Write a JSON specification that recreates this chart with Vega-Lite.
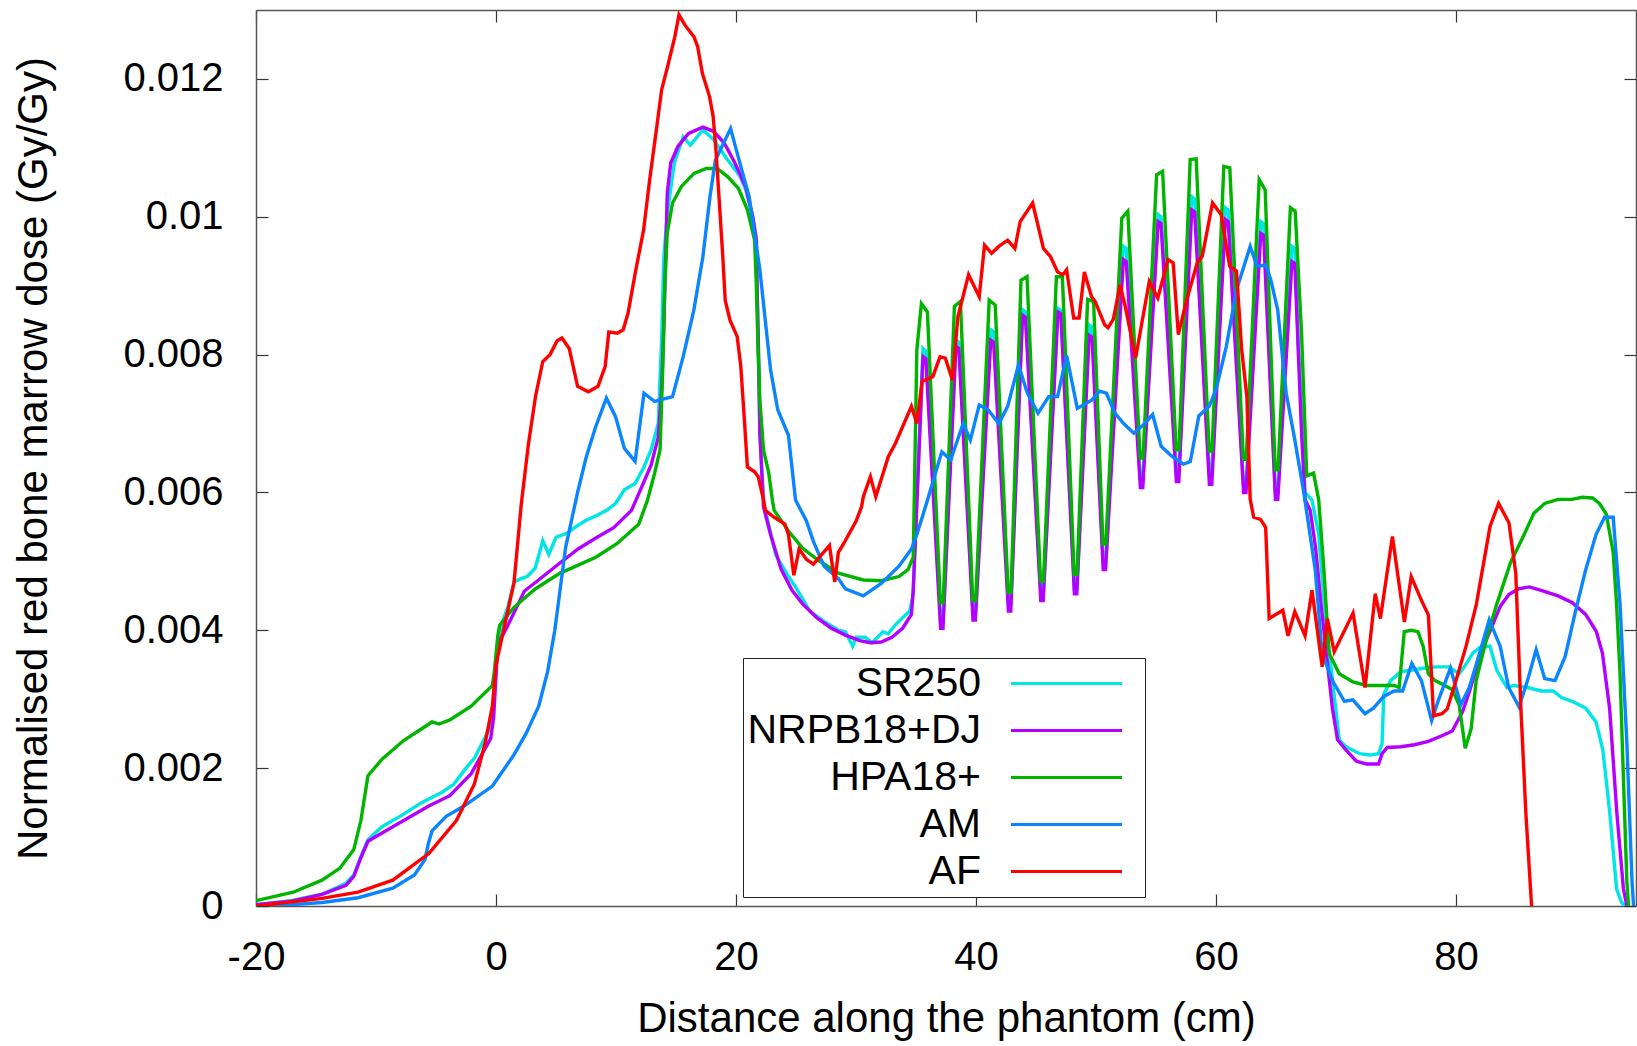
{
"$schema": "https://vega.github.io/schema/vega-lite/v6.json",
"width": 1380, "height": 896,
"autosize": {"type": "none"},
"padding": {"left": 256, "top": 10, "right": 1, "bottom": 140},
"background": "white",
"config": {"view": {"stroke": null}, "font": "Liberation Sans"},
"data": {"values": [
{"m":"SR250","x":-20,"y":0.00002},{"m":"SR250","x":-17,"y":0.00008},{"m":"SR250","x":-14.5,"y":0.00017},{"m":"SR250","x":-12.5,"y":0.00033},{"m":"SR250","x":-11.85,"y":0.00045},{"m":"SR250","x":-11.26,"y":0.00072},{"m":"SR250","x":-10.67,"y":0.00096},{"m":"SR250","x":-9.5,"y":0.00115},{"m":"SR250","x":-8,"y":0.0013},{"m":"SR250","x":-6.2,"y":0.0015},{"m":"SR250","x":-4.5,"y":0.00165},{"m":"SR250","x":-3.56,"y":0.00176},{"m":"SR250","x":-2.5,"y":0.002},{"m":"SR250","x":-1.78,"y":0.00215},{"m":"SR250","x":-0.6,"y":0.00255},{"m":"SR250","x":-0.2,"y":0.0029},{"m":"SR250","x":0,"y":0.0034},{"m":"SR250","x":0.15,"y":0.00385},{"m":"SR250","x":0.5,"y":0.0041},{"m":"SR250","x":1,"y":0.00435},{"m":"SR250","x":1.5,"y":0.0047},{"m":"SR250","x":2.07,"y":0.00475},{"m":"SR250","x":2.6,"y":0.00478},{"m":"SR250","x":3.26,"y":0.0049},{"m":"SR250","x":3.9,"y":0.0053},{"m":"SR250","x":4.4,"y":0.0051},{"m":"SR250","x":5,"y":0.00535},{"m":"SR250","x":5.94,"y":0.00541},{"m":"SR250","x":6.54,"y":0.00549},{"m":"SR250","x":7.43,"y":0.00559},{"m":"SR250","x":8.32,"y":0.00566},{"m":"SR250","x":9.21,"y":0.00574},{"m":"SR250","x":9.96,"y":0.00584},{"m":"SR250","x":10.7,"y":0.00604},{"m":"SR250","x":11.59,"y":0.00613},{"m":"SR250","x":12.33,"y":0.00637},{"m":"SR250","x":12.93,"y":0.00662},{"m":"SR250","x":13.52,"y":0.007},{"m":"SR250","x":13.82,"y":0.00831},{"m":"SR250","x":13.97,"y":0.00937},{"m":"SR250","x":14.27,"y":0.01005},{"m":"SR250","x":14.86,"y":0.01078},{"m":"SR250","x":15.6,"y":0.01116},{"m":"SR250","x":16.2,"y":0.01104},{"m":"SR250","x":17.24,"y":0.01126},{"m":"SR250","x":18.13,"y":0.01112},{"m":"SR250","x":19.32,"y":0.01082},{"m":"SR250","x":20.3,"y":0.0106},{"m":"SR250","x":20.8,"y":0.0104},{"m":"SR250","x":21.4,"y":0.01},{"m":"SR250","x":21.7,"y":0.00966},{"m":"SR250","x":21.75,"y":0.00903},{"m":"SR250","x":21.87,"y":0.00807},{"m":"SR250","x":21.99,"y":0.00686},{"m":"SR250","x":22.29,"y":0.00589},{"m":"SR250","x":22.44,"y":0.00574},{"m":"SR250","x":23.3,"y":0.0051},{"m":"SR250","x":24.37,"y":0.00478},{"m":"SR250","x":24.96,"y":0.00463},{"m":"SR250","x":26.15,"y":0.00428},{"m":"SR250","x":27.34,"y":0.00413},{"m":"SR250","x":28.53,"y":0.004},{"m":"SR250","x":29.12,"y":0.00398},{"m":"SR250","x":29.72,"y":0.00377},{"m":"SR250","x":30.02,"y":0.0039},{"m":"SR250","x":30.76,"y":0.0039},{"m":"SR250","x":31.35,"y":0.00382},{"m":"SR250","x":32.25,"y":0.00398},{"m":"SR250","x":32.69,"y":0.00395},{"m":"SR250","x":33.28,"y":0.00408},{"m":"SR250","x":34.47,"y":0.00428},{"m":"SR250","x":34.75,"y":0.0045},
{"m":"SR250","x":35.58,"y":0.00809},{"m":"SR250","x":35.82,"y":0.00805},{"m":"SR250","x":37.05,"y":0.00415},{"m":"SR250","x":37.25,"y":0.00415},{"m":"SR250","x":38.33,"y":0.00821},{"m":"SR250","x":38.57,"y":0.00818},{"m":"SR250","x":39.75,"y":0.00425},{"m":"SR250","x":39.95,"y":0.00425},{"m":"SR250","x":41.23,"y":0.00836},{"m":"SR250","x":41.47,"y":0.00833},{"m":"SR250","x":42.7,"y":0.00438},{"m":"SR250","x":42.9,"y":0.00438},{"m":"SR250","x":43.88,"y":0.00865},{"m":"SR250","x":44.12,"y":0.00862},{"m":"SR250","x":45.4,"y":0.00453},{"m":"SR250","x":45.6,"y":0.00453},{"m":"SR250","x":46.83,"y":0.00867},{"m":"SR250","x":47.07,"y":0.00864},{"m":"SR250","x":48.2,"y":0.0046},{"m":"SR250","x":48.4,"y":0.0046},{"m":"SR250","x":49.43,"y":0.00843},{"m":"SR250","x":49.67,"y":0.0084},{"m":"SR250","x":50.6,"y":0.005},{"m":"SR250","x":50.8,"y":0.005},{"m":"SR250","x":52.28,"y":0.00957},{"m":"SR250","x":52.52,"y":0.00954},{"m":"SR250","x":53.7,"y":0.00619},{"m":"SR250","x":53.9,"y":0.00619},{"m":"SR250","x":55.18,"y":0.01003},{"m":"SR250","x":55.42,"y":0.01},{"m":"SR250","x":56.7,"y":0.00629},{"m":"SR250","x":56.9,"y":0.00629},{"m":"SR250","x":57.98,"y":0.01029},{"m":"SR250","x":58.22,"y":0.01026},{"m":"SR250","x":59.45,"y":0.00629},{"m":"SR250","x":59.65,"y":0.00629},{"m":"SR250","x":60.78,"y":0.01013},{"m":"SR250","x":61.02,"y":0.0101},{"m":"SR250","x":62.3,"y":0.00609},{"m":"SR250","x":62.5,"y":0.00609},{"m":"SR250","x":63.73,"y":0.00993},{"m":"SR250","x":63.97,"y":0.0099},{"m":"SR250","x":64.95,"y":0.006},{"m":"SR250","x":65.15,"y":0.006},{"m":"SR250","x":66.33,"y":0.00957},{"m":"SR250","x":66.57,"y":0.00954},{"m":"SR250","x":66.85,"y":0.0082},{"m":"SR250","x":67.2,"y":0.0069},{"m":"SR250","x":67.42,"y":0.006},{"m":"SR250","x":68,"y":0.00589},{"m":"SR250","x":68.56,"y":0.00539},{"m":"SR250","x":69.13,"y":0.00418},{"m":"SR250","x":69.84,"y":0.00307},{"m":"SR250","x":70.27,"y":0.00241},{"m":"SR250","x":70.84,"y":0.00231},{"m":"SR250","x":71.98,"y":0.00221},{"m":"SR250","x":72.84,"y":0.00219},{"m":"SR250","x":73.55,"y":0.00221},{"m":"SR250","x":73.84,"y":0.00236},{"m":"SR250","x":73.98,"y":0.00307},{"m":"SR250","x":74.55,"y":0.00327},{"m":"SR250","x":75.41,"y":0.0034},{"m":"SR250","x":76.27,"y":0.00342},{"m":"SR250","x":77.27,"y":0.00345},{"m":"SR250","x":78.26,"y":0.00347},{"m":"SR250","x":79.4,"y":0.00347},{"m":"SR250","x":80.26,"y":0.00337},{"m":"SR250","x":80.69,"y":0.00347},{"m":"SR250","x":81.4,"y":0.00367},{"m":"SR250","x":81.97,"y":0.00375},{"m":"SR250","x":82.83,"y":0.00377},{"m":"SR250","x":83.4,"y":0.00342},{"m":"SR250","x":84.25,"y":0.00317},{"m":"SR250","x":84.82,"y":0.0032},{"m":"SR250","x":85.96,"y":0.00317},{"m":"SR250","x":87.1,"y":0.00312},{"m":"SR250","x":88.1,"y":0.00312},{"m":"SR250","x":88.82,"y":0.00302},{"m":"SR250","x":89.67,"y":0.00297},{"m":"SR250","x":90.81,"y":0.00287},{"m":"SR250","x":91.67,"y":0.00267},{"m":"SR250","x":92.24,"y":0.00226},{"m":"SR250","x":92.81,"y":0.00136},{"m":"SR250","x":93.38,"y":0.00025},{"m":"SR250","x":93.8,"y":0.00005},{"m":"SR250","x":94.1,"y":0},

{"m":"NRPB18+DJ","x":-20,"y":0.00002},{"m":"NRPB18+DJ","x":-17,"y":0.00007},{"m":"NRPB18+DJ","x":-14.5,"y":0.00017},{"m":"NRPB18+DJ","x":-12.5,"y":0.0003},{"m":"NRPB18+DJ","x":-11.85,"y":0.00043},{"m":"NRPB18+DJ","x":-11.26,"y":0.0007},{"m":"NRPB18+DJ","x":-10.67,"y":0.00094},{"m":"NRPB18+DJ","x":-8.6,"y":0.00115},{"m":"NRPB18+DJ","x":-5.6,"y":0.00145},{"m":"NRPB18+DJ","x":-3.85,"y":0.0016},{"m":"NRPB18+DJ","x":-2.07,"y":0.00192},{"m":"NRPB18+DJ","x":-0.44,"y":0.00243},{"m":"NRPB18+DJ","x":-0.2,"y":0.00273},{"m":"NRPB18+DJ","x":0.15,"y":0.0038},{"m":"NRPB18+DJ","x":0.9,"y":0.00404},{"m":"NRPB18+DJ","x":2.37,"y":0.00457},{"m":"NRPB18+DJ","x":3.26,"y":0.00469},{"m":"NRPB18+DJ","x":5.35,"y":0.00498},{"m":"NRPB18+DJ","x":6.84,"y":0.00518},{"m":"NRPB18+DJ","x":8.32,"y":0.00534},{"m":"NRPB18+DJ","x":9.81,"y":0.00549},{"m":"NRPB18+DJ","x":11.29,"y":0.00574},{"m":"NRPB18+DJ","x":12.19,"y":0.0061},{"m":"NRPB18+DJ","x":12.93,"y":0.0064},{"m":"NRPB18+DJ","x":13.52,"y":0.0068},{"m":"NRPB18+DJ","x":13.8,"y":0.0075},{"m":"NRPB18+DJ","x":13.97,"y":0.00831},{"m":"NRPB18+DJ","x":14.12,"y":0.00928},{"m":"NRPB18+DJ","x":14.27,"y":0.01034},{"m":"NRPB18+DJ","x":14.56,"y":0.01078},{"m":"NRPB18+DJ","x":15.16,"y":0.01102},{"m":"NRPB18+DJ","x":16.05,"y":0.01121},{"m":"NRPB18+DJ","x":17.24,"y":0.0113},{"m":"NRPB18+DJ","x":18.13,"y":0.01124},{"m":"NRPB18+DJ","x":19.02,"y":0.01107},{"m":"NRPB18+DJ","x":19.91,"y":0.01078},{"m":"NRPB18+DJ","x":20.8,"y":0.01044},{"m":"NRPB18+DJ","x":21.4,"y":0.01},{"m":"NRPB18+DJ","x":21.7,"y":0.00966},{"m":"NRPB18+DJ","x":21.75,"y":0.00903},{"m":"NRPB18+DJ","x":21.87,"y":0.00807},{"m":"NRPB18+DJ","x":21.99,"y":0.00686},{"m":"NRPB18+DJ","x":22.29,"y":0.00579},{"m":"NRPB18+DJ","x":22.88,"y":0.00539},{"m":"NRPB18+DJ","x":23.77,"y":0.00488},{"m":"NRPB18+DJ","x":24.67,"y":0.00458},{"m":"NRPB18+DJ","x":25.56,"y":0.00438},{"m":"NRPB18+DJ","x":26.75,"y":0.00418},{"m":"NRPB18+DJ","x":27.94,"y":0.00403},{"m":"NRPB18+DJ","x":29.12,"y":0.00393},{"m":"NRPB18+DJ","x":30.31,"y":0.00385},{"m":"NRPB18+DJ","x":31.2,"y":0.00382},{"m":"NRPB18+DJ","x":32.1,"y":0.00383},{"m":"NRPB18+DJ","x":32.99,"y":0.0039},{"m":"NRPB18+DJ","x":33.88,"y":0.00403},{"m":"NRPB18+DJ","x":34.62,"y":0.00423},{"m":"NRPB18+DJ","x":34.77,"y":0.00458},
{"m":"NRPB18+DJ","x":35.58,"y":0.00797},{"m":"NRPB18+DJ","x":35.82,"y":0.00794},{"m":"NRPB18+DJ","x":37.05,"y":0.00403},{"m":"NRPB18+DJ","x":37.25,"y":0.00403},{"m":"NRPB18+DJ","x":38.33,"y":0.00812},{"m":"NRPB18+DJ","x":38.57,"y":0.00809},{"m":"NRPB18+DJ","x":39.75,"y":0.00415},{"m":"NRPB18+DJ","x":39.95,"y":0.00415},{"m":"NRPB18+DJ","x":41.23,"y":0.00821},{"m":"NRPB18+DJ","x":41.47,"y":0.00818},{"m":"NRPB18+DJ","x":42.7,"y":0.00428},{"m":"NRPB18+DJ","x":42.9,"y":0.00428},{"m":"NRPB18+DJ","x":43.88,"y":0.00857},{"m":"NRPB18+DJ","x":44.12,"y":0.00854},{"m":"NRPB18+DJ","x":45.4,"y":0.00443},{"m":"NRPB18+DJ","x":45.6,"y":0.00443},{"m":"NRPB18+DJ","x":46.83,"y":0.00862},{"m":"NRPB18+DJ","x":47.07,"y":0.00859},{"m":"NRPB18+DJ","x":48.2,"y":0.00453},{"m":"NRPB18+DJ","x":48.4,"y":0.00453},{"m":"NRPB18+DJ","x":49.43,"y":0.00828},{"m":"NRPB18+DJ","x":49.67,"y":0.00825},{"m":"NRPB18+DJ","x":50.6,"y":0.00488},{"m":"NRPB18+DJ","x":50.8,"y":0.00488},{"m":"NRPB18+DJ","x":52.28,"y":0.00938},{"m":"NRPB18+DJ","x":52.52,"y":0.00935},{"m":"NRPB18+DJ","x":53.7,"y":0.00607},{"m":"NRPB18+DJ","x":53.9,"y":0.00607},{"m":"NRPB18+DJ","x":55.18,"y":0.00993},{"m":"NRPB18+DJ","x":55.42,"y":0.0099},{"m":"NRPB18+DJ","x":56.7,"y":0.00616},{"m":"NRPB18+DJ","x":56.9,"y":0.00616},{"m":"NRPB18+DJ","x":57.98,"y":0.0101},{"m":"NRPB18+DJ","x":58.22,"y":0.01007},{"m":"NRPB18+DJ","x":59.45,"y":0.00612},{"m":"NRPB18+DJ","x":59.65,"y":0.00612},{"m":"NRPB18+DJ","x":60.78,"y":0.00996},{"m":"NRPB18+DJ","x":61.02,"y":0.00993},{"m":"NRPB18+DJ","x":62.3,"y":0.006},{"m":"NRPB18+DJ","x":62.5,"y":0.006},{"m":"NRPB18+DJ","x":63.73,"y":0.00976},{"m":"NRPB18+DJ","x":63.97,"y":0.00973},{"m":"NRPB18+DJ","x":64.95,"y":0.0059},{"m":"NRPB18+DJ","x":65.15,"y":0.0059},{"m":"NRPB18+DJ","x":66.33,"y":0.00935},{"m":"NRPB18+DJ","x":66.57,"y":0.00932},{"m":"NRPB18+DJ","x":66.85,"y":0.00807},{"m":"NRPB18+DJ","x":67.13,"y":0.00686},{"m":"NRPB18+DJ","x":67.42,"y":0.0059},{"m":"NRPB18+DJ","x":67.85,"y":0.00574},{"m":"NRPB18+DJ","x":68.3,"y":0.0052},{"m":"NRPB18+DJ","x":68.8,"y":0.0043},{"m":"NRPB18+DJ","x":69.13,"y":0.00377},{"m":"NRPB18+DJ","x":69.7,"y":0.00287},{"m":"NRPB18+DJ","x":70.13,"y":0.00241},{"m":"NRPB18+DJ","x":70.84,"y":0.00226},{"m":"NRPB18+DJ","x":71.7,"y":0.0021},{"m":"NRPB18+DJ","x":72.55,"y":0.00206},{"m":"NRPB18+DJ","x":73.55,"y":0.00206},{"m":"NRPB18+DJ","x":73.84,"y":0.00221},{"m":"NRPB18+DJ","x":74.27,"y":0.0023},{"m":"NRPB18+DJ","x":75.41,"y":0.00231},{"m":"NRPB18+DJ","x":76.55,"y":0.00234},{"m":"NRPB18+DJ","x":77.69,"y":0.00239},{"m":"NRPB18+DJ","x":78.83,"y":0.00247},{"m":"NRPB18+DJ","x":79.69,"y":0.00254},{"m":"NRPB18+DJ","x":80.55,"y":0.00282},{"m":"NRPB18+DJ","x":81.1,"y":0.0031},{"m":"NRPB18+DJ","x":81.7,"y":0.00345},{"m":"NRPB18+DJ","x":82.5,"y":0.00385},{"m":"NRPB18+DJ","x":83.1,"y":0.0041},{"m":"NRPB18+DJ","x":83.7,"y":0.00435},{"m":"NRPB18+DJ","x":84.4,"y":0.00452},{"m":"NRPB18+DJ","x":85.2,"y":0.0046},{"m":"NRPB18+DJ","x":86.1,"y":0.00463},{"m":"NRPB18+DJ","x":87.1,"y":0.00458},{"m":"NRPB18+DJ","x":88.5,"y":0.0045},{"m":"NRPB18+DJ","x":89.7,"y":0.0044},{"m":"NRPB18+DJ","x":90.8,"y":0.00423},{"m":"NRPB18+DJ","x":91.7,"y":0.00398},{"m":"NRPB18+DJ","x":92.2,"y":0.00367},{"m":"NRPB18+DJ","x":92.8,"y":0.00287},{"m":"NRPB18+DJ","x":93.4,"y":0.00136},{"m":"NRPB18+DJ","x":93.95,"y":0.00025},{"m":"NRPB18+DJ","x":94.24,"y":0},

{"m":"HPA18+","x":-20,"y":0.000077},{"m":"HPA18+","x":-16.9,"y":0.0002},{"m":"HPA18+","x":-14.5,"y":0.000375},{"m":"HPA18+","x":-13,"y":0.00055},{"m":"HPA18+","x":-11.85,"y":0.00082},{"m":"HPA18+","x":-11.26,"y":0.00124},{"m":"HPA18+","x":-10.67,"y":0.00189},{"m":"HPA18+","x":-9.5,"y":0.00213},{"m":"HPA18+","x":-7.7,"y":0.0024},{"m":"HPA18+","x":-5.33,"y":0.00267},{"m":"HPA18+","x":-4.74,"y":0.00264},{"m":"HPA18+","x":-3.85,"y":0.0027},{"m":"HPA18+","x":-2.07,"y":0.0029},{"m":"HPA18+","x":-0.3,"y":0.0032},{"m":"HPA18+","x":-0.15,"y":0.00338},{"m":"HPA18+","x":0.15,"y":0.00392},{"m":"HPA18+","x":0.3,"y":0.00407},{"m":"HPA18+","x":1.48,"y":0.00433},{"m":"HPA18+","x":3.26,"y":0.0046},{"m":"HPA18+","x":5.35,"y":0.00483},{"m":"HPA18+","x":8.32,"y":0.00506},{"m":"HPA18+","x":10.1,"y":0.00526},{"m":"HPA18+","x":11.89,"y":0.00554},{"m":"HPA18+","x":12.63,"y":0.00589},{"m":"HPA18+","x":13.22,"y":0.00628},{"m":"HPA18+","x":13.67,"y":0.00662},{"m":"HPA18+","x":13.9,"y":0.00783},{"m":"HPA18+","x":14.06,"y":0.00899},{"m":"HPA18+","x":14.27,"y":0.00976},{"m":"HPA18+","x":14.71,"y":0.0102},{"m":"HPA18+","x":15.45,"y":0.01044},{"m":"HPA18+","x":16.5,"y":0.01063},{"m":"HPA18+","x":17.53,"y":0.0107},{"m":"HPA18+","x":18.43,"y":0.0107},{"m":"HPA18+","x":19.32,"y":0.01058},{"m":"HPA18+","x":20.21,"y":0.01041},{"m":"HPA18+","x":20.95,"y":0.0101},{"m":"HPA18+","x":21.55,"y":0.00966},{"m":"HPA18+","x":21.69,"y":0.00903},{"m":"HPA18+","x":21.84,"y":0.00807},{"m":"HPA18+","x":21.99,"y":0.00734},{"m":"HPA18+","x":22.29,"y":0.00662},{"m":"HPA18+","x":22.73,"y":0.00628},{"m":"HPA18+","x":23.03,"y":0.00589},{"m":"HPA18+","x":23.18,"y":0.00574},{"m":"HPA18+","x":24.37,"y":0.00544},{"m":"HPA18+","x":25.56,"y":0.00519},{"m":"HPA18+","x":26.75,"y":0.00503},{"m":"HPA18+","x":28.53,"y":0.00483},{"m":"HPA18+","x":30.61,"y":0.00473},{"m":"HPA18+","x":32.1,"y":0.00472},{"m":"HPA18+","x":33.58,"y":0.00478},{"m":"HPA18+","x":34.33,"y":0.00488},{"m":"HPA18+","x":34.77,"y":0.00506},{"m":"HPA18+","x":35.07,"y":0.00807},
{"m":"HPA18+","x":35.45,"y":0.00874},{"m":"HPA18+","x":35.95,"y":0.00862},{"m":"HPA18+","x":37.03,"y":0.0044},{"m":"HPA18+","x":37.27,"y":0.0044},{"m":"HPA18+","x":38.2,"y":0.0087},{"m":"HPA18+","x":38.7,"y":0.00877},{"m":"HPA18+","x":39.73,"y":0.00443},{"m":"HPA18+","x":39.97,"y":0.00443},{"m":"HPA18+","x":41.1,"y":0.00879},{"m":"HPA18+","x":41.6,"y":0.00872},{"m":"HPA18+","x":42.68,"y":0.00455},{"m":"HPA18+","x":42.92,"y":0.00455},{"m":"HPA18+","x":43.75,"y":0.00908},{"m":"HPA18+","x":44.25,"y":0.00913},{"m":"HPA18+","x":45.38,"y":0.00471},{"m":"HPA18+","x":45.62,"y":0.00471},{"m":"HPA18+","x":46.7,"y":0.00913},{"m":"HPA18+","x":47.2,"y":0.00913},{"m":"HPA18+","x":48.18,"y":0.00481},{"m":"HPA18+","x":48.42,"y":0.00481},{"m":"HPA18+","x":49.3,"y":0.0088},{"m":"HPA18+","x":49.8,"y":0.00877},{"m":"HPA18+","x":50.58,"y":0.00525},{"m":"HPA18+","x":50.82,"y":0.00525},{"m":"HPA18+","x":52.15,"y":0.00998},{"m":"HPA18+","x":52.65,"y":0.01008},{"m":"HPA18+","x":53.68,"y":0.0065},{"m":"HPA18+","x":53.92,"y":0.0065},{"m":"HPA18+","x":55.05,"y":0.01061},{"m":"HPA18+","x":55.55,"y":0.01066},{"m":"HPA18+","x":56.68,"y":0.00662},{"m":"HPA18+","x":56.92,"y":0.00662},{"m":"HPA18+","x":57.85,"y":0.01083},{"m":"HPA18+","x":58.35,"y":0.01084},{"m":"HPA18+","x":59.43,"y":0.0066},{"m":"HPA18+","x":59.67,"y":0.0066},{"m":"HPA18+","x":60.65,"y":0.01073},{"m":"HPA18+","x":61.15,"y":0.01071},{"m":"HPA18+","x":62.28,"y":0.00648},{"m":"HPA18+","x":62.52,"y":0.00648},{"m":"HPA18+","x":63.6,"y":0.01054},{"m":"HPA18+","x":64.1,"y":0.01039},{"m":"HPA18+","x":64.93,"y":0.00633},{"m":"HPA18+","x":65.17,"y":0.00633},{"m":"HPA18+","x":66.2,"y":0.01013},{"m":"HPA18+","x":66.6,"y":0.01008},{"m":"HPA18+","x":67.13,"y":0.00831},{"m":"HPA18+","x":67.56,"y":0.00624},{"m":"HPA18+","x":68.13,"y":0.00628},{"m":"HPA18+","x":68.56,"y":0.00589},{"m":"HPA18+","x":68.99,"y":0.00488},{"m":"HPA18+","x":69.42,"y":0.00367},{"m":"HPA18+","x":70.27,"y":0.00337},{"m":"HPA18+","x":71.41,"y":0.00325},{"m":"HPA18+","x":72.55,"y":0.0032},{"m":"HPA18+","x":74.84,"y":0.0032},{"m":"HPA18+","x":75.26,"y":0.00317},{"m":"HPA18+","x":75.69,"y":0.00398},{"m":"HPA18+","x":76.26,"y":0.004},{"m":"HPA18+","x":76.83,"y":0.00398},{"m":"HPA18+","x":77.26,"y":0.00377},{"m":"HPA18+","x":77.69,"y":0.00337},{"m":"HPA18+","x":78.26,"y":0.00327},{"m":"HPA18+","x":78.83,"y":0.00322},{"m":"HPA18+","x":79.69,"y":0.00314},{"m":"HPA18+","x":80.26,"y":0.00292},{"m":"HPA18+","x":80.77,"y":0.00229},{"m":"HPA18+","x":81.26,"y":0.00257},{"m":"HPA18+","x":81.68,"y":0.00327},{"m":"HPA18+","x":82.54,"y":0.00388},{"m":"HPA18+","x":83.4,"y":0.00438},{"m":"HPA18+","x":84.54,"y":0.00498},{"m":"HPA18+","x":85.68,"y":0.00539},{"m":"HPA18+","x":86.5,"y":0.0057},{"m":"HPA18+","x":87.39,"y":0.00584},{"m":"HPA18+","x":88.5,"y":0.0059},{"m":"HPA18+","x":89.67,"y":0.0059},{"m":"HPA18+","x":90.5,"y":0.00593},{"m":"HPA18+","x":91.38,"y":0.00592},{"m":"HPA18+","x":91.95,"y":0.00584},{"m":"HPA18+","x":92.52,"y":0.00569},{"m":"HPA18+","x":93.1,"y":0.00513},{"m":"HPA18+","x":93.38,"y":0.00438},{"m":"HPA18+","x":93.67,"y":0.00337},{"m":"HPA18+","x":93.95,"y":0.00186},{"m":"HPA18+","x":94.24,"y":0.00035},{"m":"HPA18+","x":94.38,"y":0},

{"m":"AM","x":-20,"y":0},{"m":"AM","x":-17,"y":0.00002},{"m":"AM","x":-14.5,"y":0.00005},{"m":"AM","x":-11.5,"y":0.00012},{"m":"AM","x":-8.6,"y":0.00026},{"m":"AM","x":-6.8,"y":0.00045},{"m":"AM","x":-5.93,"y":0.00067},{"m":"AM","x":-5.63,"y":0.00091},{"m":"AM","x":-5.33,"y":0.00109},{"m":"AM","x":-4.15,"y":0.0013},{"m":"AM","x":-2.67,"y":0.00145},{"m":"AM","x":-0.3,"y":0.00174},{"m":"AM","x":1.48,"y":0.00219},{"m":"AM","x":2.5,"y":0.0025},{"m":"AM","x":3.56,"y":0.0029},{"m":"AM","x":4.3,"y":0.0034},{"m":"AM","x":4.9,"y":0.004},{"m":"AM","x":5.8,"y":0.0052},{"m":"AM","x":6.8,"y":0.006},{"m":"AM","x":7.5,"y":0.0065},{"m":"AM","x":8.3,"y":0.00695},{"m":"AM","x":9.2,"y":0.00737},{"m":"AM","x":9.96,"y":0.0071},{"m":"AM","x":10.7,"y":0.00664},{"m":"AM","x":11.59,"y":0.00645},{"m":"AM","x":12.33,"y":0.00744},{"m":"AM","x":13.22,"y":0.00732},{"m":"AM","x":14.71,"y":0.00739},{"m":"AM","x":15.6,"y":0.00797},{"m":"AM","x":16.49,"y":0.00865},{"m":"AM","x":17.24,"y":0.00942},{"m":"AM","x":17.83,"y":0.01029},{"m":"AM","x":18.28,"y":0.01082},{"m":"AM","x":19.55,"y":0.01128},{"m":"AM","x":20.21,"y":0.01085},{"m":"AM","x":21.1,"y":0.01029},{"m":"AM","x":21.99,"y":0.00923},{"m":"AM","x":22.88,"y":0.00778},{"m":"AM","x":23.48,"y":0.0072},{"m":"AM","x":24.37,"y":0.00683},{"m":"AM","x":24.96,"y":0.00589},{"m":"AM","x":25.86,"y":0.00559},{"m":"AM","x":26.45,"y":0.00529},{"m":"AM","x":27.34,"y":0.00493},{"m":"AM","x":28.53,"y":0.00475},{"m":"AM","x":29.12,"y":0.0046},{"m":"AM","x":30.61,"y":0.0045},{"m":"AM","x":32.1,"y":0.00468},{"m":"AM","x":33.58,"y":0.00493},{"m":"AM","x":34.62,"y":0.00518},{"m":"AM","x":35.07,"y":0.00539},{"m":"AM","x":35.96,"y":0.00589},{"m":"AM","x":37.15,"y":0.00659},{"m":"AM","x":37.89,"y":0.00647},{"m":"AM","x":38.93,"y":0.007},{"m":"AM","x":39.53,"y":0.00676},{"m":"AM","x":40.27,"y":0.00727},{"m":"AM","x":41.01,"y":0.0072},{"m":"AM","x":41.9,"y":0.007},{"m":"AM","x":42.64,"y":0.00725},{"m":"AM","x":43.54,"y":0.00785},{"m":"AM","x":44.28,"y":0.00744},{"m":"AM","x":45.17,"y":0.00715},{"m":"AM","x":46.06,"y":0.00739},{"m":"AM","x":46.8,"y":0.00739},{"m":"AM","x":47.55,"y":0.00799},{"m":"AM","x":48.44,"y":0.00722},{"m":"AM","x":49.63,"y":0.00734},{"m":"AM","x":50.3,"y":0.00747},{"m":"AM","x":50.87,"y":0.00744},{"m":"AM","x":51.58,"y":0.00715},{"m":"AM","x":52.3,"y":0.007},{"m":"AM","x":53.15,"y":0.00686},{"m":"AM","x":54,"y":0.00699},{"m":"AM","x":54.72,"y":0.00713},{"m":"AM","x":55.43,"y":0.00667},{"m":"AM","x":56.29,"y":0.00653},{"m":"AM","x":57.29,"y":0.00641},{"m":"AM","x":57.86,"y":0.00645},{"m":"AM","x":58.57,"y":0.00711},{"m":"AM","x":59.43,"y":0.00725},{"m":"AM","x":60,"y":0.00749},{"m":"AM","x":60.86,"y":0.00812},{"m":"AM","x":61.71,"y":0.00894},{"m":"AM","x":62.85,"y":0.00957},{"m":"AM","x":63.42,"y":0.00928},{"m":"AM","x":64.14,"y":0.0093},{"m":"AM","x":64.56,"y":0.00909},{"m":"AM","x":65.14,"y":0.00865},{"m":"AM","x":65.85,"y":0.00744},{"m":"AM","x":66.56,"y":0.00677},{"m":"AM","x":67.28,"y":0.00604},{"m":"AM","x":68.27,"y":0.00488},{"m":"AM","x":68.84,"y":0.00367},{"m":"AM","x":69.7,"y":0.00327},{"m":"AM","x":70.7,"y":0.00297},{"m":"AM","x":71.41,"y":0.00299},{"m":"AM","x":72.41,"y":0.00279},{"m":"AM","x":73.12,"y":0.00287},{"m":"AM","x":73.98,"y":0.00304},{"m":"AM","x":74.84,"y":0.00312},{"m":"AM","x":75.55,"y":0.00312},{"m":"AM","x":76.32,"y":0.00352},{"m":"AM","x":77.12,"y":0.00327},{"m":"AM","x":77.97,"y":0.00269},{"m":"AM","x":78.54,"y":0.00299},{"m":"AM","x":79.54,"y":0.00345},{"m":"AM","x":80.4,"y":0.00292},{"m":"AM","x":81.11,"y":0.00317},{"m":"AM","x":81.97,"y":0.00367},{"m":"AM","x":82.77,"y":0.00415},{"m":"AM","x":83.68,"y":0.00377},{"m":"AM","x":84.39,"y":0.00317},{"m":"AM","x":85.25,"y":0.00289},{"m":"AM","x":85.96,"y":0.00327},{"m":"AM","x":86.68,"y":0.00372},{"m":"AM","x":87.39,"y":0.0033},{"m":"AM","x":88.25,"y":0.00327},{"m":"AM","x":89.1,"y":0.00362},{"m":"AM","x":89.96,"y":0.00428},{"m":"AM","x":90.81,"y":0.00488},{"m":"AM","x":91.67,"y":0.00539},{"m":"AM","x":92.38,"y":0.00564},{"m":"AM","x":93.1,"y":0.00564},{"m":"AM","x":93.67,"y":0.00438},{"m":"AM","x":94.24,"y":0.00236},{"m":"AM","x":94.67,"y":0.00035},{"m":"AM","x":94.8,"y":0},

{"m":"AF","x":-20,"y":0},{"m":"AF","x":-17,"y":0.00006},{"m":"AF","x":-14.5,"y":0.00011},{"m":"AF","x":-11.5,"y":0.0002},{"m":"AF","x":-8.6,"y":0.000375},{"m":"AF","x":-5.6,"y":0.00076},{"m":"AF","x":-3.3,"y":0.00124},{"m":"AF","x":-1.8,"y":0.00177},{"m":"AF","x":-0.9,"y":0.00237},{"m":"AF","x":-0.3,"y":0.0029},{"m":"AF","x":0,"y":0.0035},{"m":"AF","x":0.6,"y":0.00398},{"m":"AF","x":1.5,"y":0.00469},{"m":"AF","x":2.1,"y":0.00582},{"m":"AF","x":2.7,"y":0.0067},{"m":"AF","x":3.3,"y":0.0074},{"m":"AF","x":3.9,"y":0.0079},{"m":"AF","x":4.5,"y":0.008},{"m":"AF","x":5.1,"y":0.0082},{"m":"AF","x":5.5,"y":0.00824},{"m":"AF","x":6.1,"y":0.00809},{"m":"AF","x":6.8,"y":0.00754},{"m":"AF","x":7.7,"y":0.00746},{"m":"AF","x":8.5,"y":0.00754},{"m":"AF","x":9.1,"y":0.00783},{"m":"AF","x":9.4,"y":0.00833},{"m":"AF","x":10.1,"y":0.00831},{"m":"AF","x":10.6,"y":0.00836},{"m":"AF","x":11,"y":0.0086},{"m":"AF","x":11.6,"y":0.00918},{"m":"AF","x":12.3,"y":0.00981},{"m":"AF","x":12.8,"y":0.01053},{"m":"AF","x":13.4,"y":0.01131},{"m":"AF","x":13.8,"y":0.01184},{"m":"AF","x":14.3,"y":0.01218},{"m":"AF","x":14.9,"y":0.01261},{"m":"AF","x":15.25,"y":0.01293},{"m":"AF","x":15.75,"y":0.01278},{"m":"AF","x":16.5,"y":0.01261},{"m":"AF","x":16.8,"y":0.01247},{"m":"AF","x":17.2,"y":0.01208},{"m":"AF","x":17.8,"y":0.01174},{"m":"AF","x":18.1,"y":0.01145},{"m":"AF","x":18.35,"y":0.01092},{"m":"AF","x":18.6,"y":0.01024},{"m":"AF","x":18.9,"y":0.00942},{"m":"AF","x":19.1,"y":0.00879},{"m":"AF","x":19.5,"y":0.0085},{"m":"AF","x":20.1,"y":0.00826},{"m":"AF","x":20.4,"y":0.00783},{"m":"AF","x":20.7,"y":0.00705},{"m":"AF","x":20.95,"y":0.00637},{"m":"AF","x":21.55,"y":0.0063},{"m":"AF","x":21.85,"y":0.00623},{"m":"AF","x":22.3,"y":0.00589},{"m":"AF","x":22.44,"y":0.00574},{"m":"AF","x":23.18,"y":0.00564},{"m":"AF","x":24.07,"y":0.00554},{"m":"AF","x":24.37,"y":0.00539},{"m":"AF","x":24.82,"y":0.0048},{"m":"AF","x":25.26,"y":0.00518},{"m":"AF","x":25.86,"y":0.00503},{"m":"AF","x":26.45,"y":0.00496},{"m":"AF","x":27.04,"y":0.00508},{"m":"AF","x":27.79,"y":0.00523},{"m":"AF","x":28.23,"y":0.0047},{"m":"AF","x":28.53,"y":0.00513},{"m":"AF","x":28.98,"y":0.00526},{"m":"AF","x":30.02,"y":0.00559},{"m":"AF","x":30.46,"y":0.00579},{"m":"AF","x":30.61,"y":0.00594},{"m":"AF","x":31.2,"y":0.00623},{"m":"AF","x":31.65,"y":0.00594},{"m":"AF","x":32.69,"y":0.00652},{"m":"AF","x":33.28,"y":0.00671},{"m":"AF","x":34.62,"y":0.00725},{"m":"AF","x":35.07,"y":0.007},{"m":"AF","x":35.51,"y":0.00761},{"m":"AF","x":36.4,"y":0.00768},{"m":"AF","x":37,"y":0.00797},{"m":"AF","x":37.44,"y":0.00795},{"m":"AF","x":38.04,"y":0.00763},{"m":"AF","x":38.49,"y":0.00855},{"m":"AF","x":39.38,"y":0.00916},{"m":"AF","x":40.27,"y":0.00884},{"m":"AF","x":40.71,"y":0.00959},{"m":"AF","x":41.3,"y":0.00947},{"m":"AF","x":41.9,"y":0.00957},{"m":"AF","x":42.64,"y":0.00966},{"m":"AF","x":43.24,"y":0.00954},{"m":"AF","x":43.68,"y":0.00993},{"m":"AF","x":44.72,"y":0.0102},{"m":"AF","x":45.62,"y":0.00954},{"m":"AF","x":46.21,"y":0.00942},{"m":"AF","x":46.8,"y":0.0092},{"m":"AF","x":47.25,"y":0.00916},{"m":"AF","x":47.55,"y":0.00923},{"m":"AF","x":48.14,"y":0.00853},{"m":"AF","x":48.59,"y":0.00853},{"m":"AF","x":49.03,"y":0.0092},{"m":"AF","x":49.63,"y":0.00884},{"m":"AF","x":49.93,"y":0.00877},{"m":"AF","x":50.73,"y":0.00843},{"m":"AF","x":51,"y":0.00839},{"m":"AF","x":51.44,"y":0.00851},{"m":"AF","x":52,"y":0.00901},{"m":"AF","x":52.44,"y":0.0087},{"m":"AF","x":53.3,"y":0.00795},{"m":"AF","x":54.44,"y":0.00906},{"m":"AF","x":55.15,"y":0.00882},{"m":"AF","x":56,"y":0.00938},{"m":"AF","x":56.43,"y":0.00933},{"m":"AF","x":56.86,"y":0.00829},{"m":"AF","x":57.57,"y":0.0088},{"m":"AF","x":58.43,"y":0.00933},{"m":"AF","x":58.86,"y":0.00943},{"m":"AF","x":59.71,"y":0.0102},{"m":"AF","x":60.43,"y":0.01003},{"m":"AF","x":61.14,"y":0.00928},{"m":"AF","x":61.71,"y":0.00921},{"m":"AF","x":62.14,"y":0.00807},{"m":"AF","x":62.57,"y":0.0074},{"m":"AF","x":62.85,"y":0.0059},{"m":"AF","x":63.14,"y":0.00564},{"m":"AF","x":63.71,"y":0.00561},{"m":"AF","x":64.14,"y":0.00549},{"m":"AF","x":64.43,"y":0.00417},{"m":"AF","x":65.57,"y":0.00429},{"m":"AF","x":66,"y":0.00392},{"m":"AF","x":66.57,"y":0.00427},{"m":"AF","x":67.42,"y":0.00392},{"m":"AF","x":68,"y":0.00458},{"m":"AF","x":68.85,"y":0.00347},{"m":"AF","x":69.28,"y":0.00417},{"m":"AF","x":69.85,"y":0.00369},{"m":"AF","x":71.42,"y":0.00425},{"m":"AF","x":72.42,"y":0.00317},{"m":"AF","x":73.27,"y":0.00453},{"m":"AF","x":73.7,"y":0.00417},{"m":"AF","x":74.7,"y":0.00536},{"m":"AF","x":75.7,"y":0.00412},{"m":"AF","x":76.27,"y":0.00478},{"m":"AF","x":77.13,"y":0.00443},{"m":"AF","x":77.7,"y":0.00422},{"m":"AF","x":78.13,"y":0.00276},{"m":"AF","x":78.84,"y":0.00279},{"m":"AF","x":79.27,"y":0.00286},{"m":"AF","x":79.98,"y":0.00326},{"m":"AF","x":80.84,"y":0.00377},{"m":"AF","x":81.7,"y":0.00438},{"m":"AF","x":82.84,"y":0.00551},{"m":"AF","x":83.55,"y":0.00584},{"m":"AF","x":84.41,"y":0.00556},{"m":"AF","x":84.98,"y":0.00483},{"m":"AF","x":85.41,"y":0.00286},{"m":"AF","x":85.82,"y":0.00135},{"m":"AF","x":86.3,"y":0}
]},
"layer": [
{
"mark": {"type": "line", "strokeWidth": 3.4, "clip": true},
"encoding": {
"x": {"field": "x", "type": "quantitative",
 "scale": {"domain": [-20, 95], "nice": false, "zero": false},
 "axis": {"orient": "bottom", "values": [-20, 0, 20, 40, 60, 80], "labelExpr": "'' + datum.value", "grid": false,
  "tickSize": -12, "tickColor": "#333", "tickWidth": 1.2, "labelPadding": 43, "labelFontSize": 40, "labelColor": "#000", "labelFont": "Liberation Sans", "labelFlush": false, "labelOverlap": false,
  "domainColor": "#555", "domainWidth": 1.5,
  "title": "Distance along the phantom (cm)", "titleFontSize": 42, "titleFontWeight": "normal", "titleColor": "#000", "titleFont": "Liberation Sans", "titlePadding": 21}},
"y": {"field": "y", "type": "quantitative",
 "scale": {"domain": [0, 0.013], "nice": false, "zero": false},
 "axis": {"orient": "left", "values": [0, 0.002, 0.004, 0.006, 0.008, 0.01, 0.012], "format": ".3~f", "grid": false,
  "tickSize": -12, "tickColor": "#333", "tickWidth": 1.2, "labelPadding": 45, "labelFontSize": 40, "labelColor": "#000", "labelFont": "Liberation Sans", "labelFlush": false, "labelOverlap": false,
  "domainColor": "#555", "domainWidth": 1.5,
  "title": "Normalised red bone marrow dose (Gy/Gy)", "titleFontSize": 42, "titleFontWeight": "normal", "titleColor": "#000", "titleFont": "Liberation Sans", "titlePadding": 67}},
"color": {"field": "m", "type": "nominal",
 "scale": {"domain": ["SR250", "NRPB18+DJ", "HPA18+", "AM", "AF"], "range": ["#00e5e5", "#b400ff", "#00b400", "#0a84ff", "#ff0000"]},
 "legend": {"orient": "none", "legendX": 487, "legendY": 648, "title": null, "direction": "vertical",
  "padding": 5, "strokeColor": "#222", "fillColor": "white",
  "labelFontSize": 41, "labelFont": "Liberation Sans", "labelColor": "#000", "labelAlign": "right", "labelOffset": -106, "labelLimit": 0,
  "symbolType": "M-11.1,0H11.1M13.5,0", "symbolSize": 100, "symbolStrokeWidth": 3, "symbolOffset": 298, "rowPadding": 5}}
}
},
{
"mark": {"type": "point", "opacity": 0},
"encoding": {
"x": {"field": "x", "type": "quantitative", "scale": {"domain": [-20, 95], "nice": false, "zero": false},
 "axis": {"orient": "top", "values": [-20, 0, 20, 40, 60, 80], "labels": false, "grid": false, "title": null, "tickSize": -12, "tickColor": "#333", "tickWidth": 1.2, "domainColor": "#555", "domainWidth": 1.5}},
"y": {"field": "y", "type": "quantitative", "scale": {"domain": [0, 0.013], "nice": false, "zero": false},
 "axis": {"orient": "right", "values": [0, 0.002, 0.004, 0.006, 0.008, 0.01, 0.012], "labels": false, "grid": false, "title": null, "tickSize": -12, "tickColor": "#333", "tickWidth": 1.2, "domainColor": "#555", "domainWidth": 1.5}}
}
}
],
"resolve": {"axis": {"x": "independent", "y": "independent"}}
}
